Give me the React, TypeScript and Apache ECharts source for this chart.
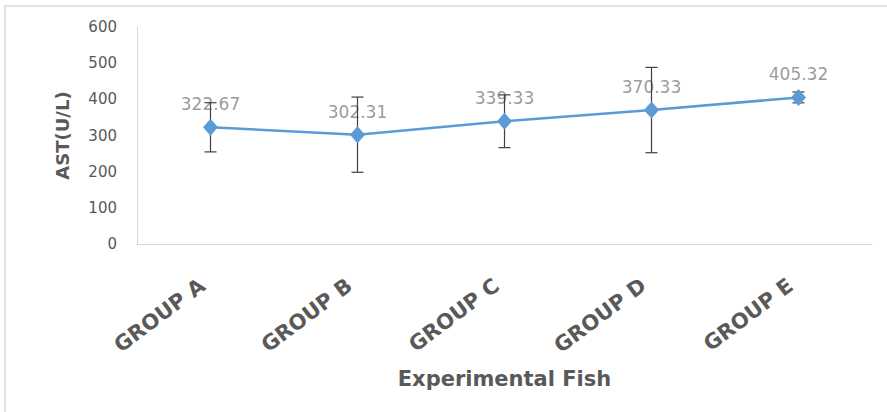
import React, { useEffect, useRef } from "react";
import * as echarts from "echarts";

const groups = ["GROUP A", "GROUP B", "GROUP C", "GROUP D", "GROUP E"];
const astMeans = [322.67, 302.31, 339.33, 370.33, 405.32];
const astSD = [68, 104, 73, 118, 15];
const yTicks = [0, 100, 200, 300, 400, 500, 600];

const TEXT = "#595959";
const LINE = "#5b9bd5";

export default function App() {
  const ref = useRef<HTMLDivElement>(null);

  useEffect(() => {
    document.body.style.margin = "0";
    if (!ref.current) return;
    const chart = echarts.init(ref.current, undefined, { renderer: "svg" });

    const errData = groups.map((_, i) => [i, astMeans[i] - astSD[i], astMeans[i] + astSD[i]]);

    chart.setOption({
      animation: false,
      backgroundColor: "#ffffff",
      graphic: [
        {
          type: "rect",
          shape: { x: 5, y: 6, width: 900, height: 420 },
          style: { fill: "none", stroke: "#d9d9d9", lineWidth: 1.5 },
          silent: true,
        },
      ],
      grid: { left: 137, right: 15, top: 27, bottom: 168 },
      xAxis: {
        type: "category",
        data: groups,
        boundaryGap: true,
        axisLine: { show: true, lineStyle: { color: "#d9d9d9", width: 1 } },
        axisTick: { show: false },
        axisLabel: {
          rotate: 37,
          color: TEXT,
          fontFamily: "DejaVu Sans",
          fontWeight: "bold",
          fontSize: 21,
          margin: 33,
          padding: [0, 10, 0, 0],
        },
        name: "Experimental Fish",
        nameLocation: "middle",
        nameGap: 124,
        nameTextStyle: {
          color: TEXT,
          fontFamily: "DejaVu Sans",
          fontWeight: "bold",
          fontSize: 21,
        },
      },
      yAxis: {
        type: "value",
        min: yTicks[0],
        max: yTicks[yTicks.length - 1],
        interval: 100,
        axisLine: { show: true, lineStyle: { color: "#d9d9d9", width: 1 } },
        axisTick: { show: false },
        splitLine: { show: false },
        axisLabel: {
          color: TEXT,
          fontFamily: "DejaVu Sans",
          fontSize: 15,
          margin: 20,
        },
        name: "AST(U/L)",
        nameLocation: "middle",
        nameGap: 66,
        nameRotate: 90,
        nameTextStyle: {
          color: TEXT,
          fontFamily: "DejaVu Sans",
          fontWeight: "bold",
          fontSize: 18,
        },
      },
      series: [
        {
          // value labels, drawn beneath the error bars
          type: "scatter",
          data: astMeans,
          symbol: "diamond",
          symbolSize: [15, 17],
          itemStyle: { color: "rgba(0,0,0,0)" },
          z: 1,
          label: {
            show: true,
            position: "top",
            distance: 6,
            color: "#7f7f7f",
            fontFamily: "DejaVu Sans",
            fontSize: 17,
            formatter: (p: any) => astMeans[p.dataIndex].toFixed(2),
          },
        },
        {
          type: "custom",
          z: 2,
          data: errData,
          renderItem: (params: any, api: any) => {
            const x = api.value(0);
            const lo = api.coord([x, api.value(1)]);
            const hi = api.coord([x, api.value(2)]);
            const cap = 6;
            const style = { stroke: "#404040", lineWidth: 1.2, fill: "none" };
            return {
              type: "group",
              children: [
                { type: "line", shape: { x1: hi[0], y1: hi[1], x2: lo[0], y2: lo[1] }, style },
                { type: "line", shape: { x1: hi[0] - cap, y1: hi[1], x2: hi[0] + cap, y2: hi[1] }, style },
                { type: "line", shape: { x1: lo[0] - cap, y1: lo[1], x2: lo[0] + cap, y2: lo[1] }, style },
              ],
            };
          },
        },
        {
          type: "line",
          data: astMeans,
          z: 3,
          symbol: "diamond",
          symbolSize: [15, 17],
          lineStyle: { color: LINE, width: 2.5 },
          itemStyle: { color: LINE },
        },
      ],
    });

    return () => chart.dispose();
  }, []);

  return <div ref={ref} style={{ width: 887, height: 412 }} />;
}
